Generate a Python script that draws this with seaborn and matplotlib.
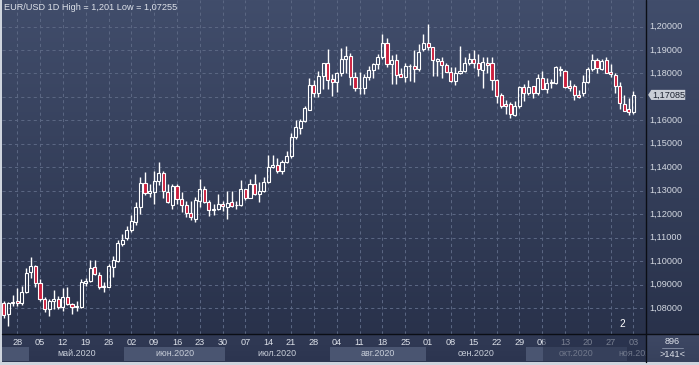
import numpy as np
import pandas as pd
import matplotlib
matplotlib.use("Agg")
import matplotlib.pyplot as plt
import seaborn as sns
from matplotlib.colors import LinearSegmentedColormap
from matplotlib.lines import Line2D
from matplotlib.patches import Polygon
from matplotlib.transforms import blended_transform_factory

# EUR/USD daily bars, 23.04.2020 - 03.11.2020
dates = pd.bdate_range('2020-04-23', '2020-11-03')

opens = [1.0820, 1.0774, 1.0820, 1.0832, 1.0822, 1.0870, 1.0952, 1.0978, 1.0906, 1.0838,
         1.0796, 1.0832, 1.0840, 1.0806, 1.0849, 1.0818, 1.0804, 1.0805, 1.0906, 1.0914,
         1.0974, 1.0941, 1.0890, 1.0891, 1.0977, 1.1000, 1.1071, 1.1100, 1.1134, 1.1167,
         1.1231, 1.1334, 1.1290, 1.1294, 1.1340, 1.1374, 1.1296, 1.1241, 1.1320, 1.1263,
         1.1241, 1.1203, 1.1181, 1.1257, 1.1306, 1.1250, 1.1217, 1.1220, 1.1243, 1.1231,
         1.1250, 1.1238, 1.1240, 1.1306, 1.1271, 1.1327, 1.1286, 1.1300, 1.1339, 1.1400,
         1.1411, 1.1383, 1.1424, 1.1446, 1.1527, 1.1567, 1.1596, 1.1646, 1.1749, 1.1717,
         1.1789, 1.1846, 1.1776, 1.1763, 1.1800, 1.1860, 1.1874, 1.1783, 1.1736, 1.1737,
         1.1783, 1.1815, 1.1839, 1.1871, 1.1928, 1.1839, 1.1856, 1.1797, 1.1786, 1.1831,
         1.1832, 1.1820, 1.1905, 1.1931, 1.1911, 1.1855, 1.1851, 1.1834, 1.1807, 1.1769,
         1.1800, 1.1812, 1.1843, 1.1860, 1.1846, 1.1815, 1.1846, 1.1846, 1.1772, 1.1708,
         1.1669, 1.1669, 1.1623, 1.1661, 1.1741, 1.1718, 1.1746, 1.1715, 1.1779, 1.1732,
         1.1760, 1.1760, 1.1817, 1.1812, 1.1746, 1.1746, 1.1708, 1.1718, 1.1765, 1.1817,
         1.1857, 1.1817, 1.1857, 1.1807, 1.1793, 1.1746, 1.1670, 1.1647, 1.1637]

highs = [1.0830, 1.0826, 1.0856, 1.0886, 1.0892, 1.0972, 1.1017, 1.0985, 1.0925, 1.0847,
         1.0837, 1.0876, 1.0851, 1.0886, 1.0888, 1.0820, 1.0830, 1.0925, 1.0929, 1.1003,
         1.1003, 1.0953, 1.0911, 1.0986, 1.1021, 1.1089, 1.1114, 1.1149, 1.1196, 1.1253,
         1.1360, 1.1380, 1.1330, 1.1383, 1.1422, 1.1385, 1.1330, 1.1329, 1.1327, 1.1294,
         1.1256, 1.1256, 1.1274, 1.1349, 1.1321, 1.1260, 1.1244, 1.1286, 1.1258, 1.1300,
         1.1300, 1.1257, 1.1346, 1.1309, 1.1349, 1.1371, 1.1339, 1.1360, 1.1453, 1.1453,
         1.1441, 1.1429, 1.1470, 1.1546, 1.1603, 1.1607, 1.1660, 1.1781, 1.1771, 1.1809,
         1.1846, 1.1906, 1.1798, 1.1807, 1.1909, 1.1915, 1.1885, 1.1806, 1.1805, 1.1797,
         1.1833, 1.1843, 1.1882, 1.1966, 1.1951, 1.1878, 1.1883, 1.1822, 1.1844, 1.1839,
         1.1901, 1.1925, 1.1966, 1.2011, 1.1913, 1.1866, 1.1872, 1.1846, 1.1829, 1.1827,
         1.1917, 1.1872, 1.1885, 1.1900, 1.1883, 1.1872, 1.1872, 1.1871, 1.1776, 1.1717,
         1.1686, 1.1680, 1.1683, 1.1745, 1.1753, 1.1770, 1.1747, 1.1797, 1.1809, 1.1780,
         1.1778, 1.1831, 1.1830, 1.1813, 1.1772, 1.1757, 1.1729, 1.1794, 1.1827, 1.1881,
         1.1867, 1.1860, 1.1870, 1.1840, 1.1800, 1.1762, 1.1708, 1.1696, 1.1725]

lows = [1.0757, 1.0725, 1.0810, 1.0810, 1.0813, 1.0866, 1.0930, 1.0890, 1.0830, 1.0782,
        1.0767, 1.0795, 1.0796, 1.0786, 1.0813, 1.0775, 1.0786, 1.0799, 1.0896, 1.0909,
        1.0939, 1.0881, 1.0867, 1.0888, 1.0931, 1.0995, 1.1063, 1.1090, 1.1124, 1.1156,
        1.1200, 1.1280, 1.1275, 1.1243, 1.1323, 1.1270, 1.1246, 1.1224, 1.1243, 1.1209,
        1.1189, 1.1174, 1.1167, 1.1231, 1.1247, 1.1191, 1.1196, 1.1217, 1.1215, 1.1181,
        1.1231, 1.1223, 1.1236, 1.1260, 1.1267, 1.1280, 1.1254, 1.1296, 1.1331, 1.1396,
        1.1377, 1.1371, 1.1420, 1.1439, 1.1520, 1.1543, 1.1593, 1.1643, 1.1700, 1.1700,
        1.1732, 1.1735, 1.1703, 1.1721, 1.1791, 1.1802, 1.1752, 1.1725, 1.1711, 1.1712,
        1.1772, 1.1781, 1.1818, 1.1863, 1.1828, 1.1753, 1.1753, 1.1783, 1.1763, 1.1768,
        1.1762, 1.1809, 1.1894, 1.1899, 1.1789, 1.1789, 1.1781, 1.1808, 1.1765, 1.1752,
        1.1798, 1.1805, 1.1835, 1.1822, 1.1789, 1.1737, 1.1801, 1.1729, 1.1674, 1.1652,
        1.1627, 1.1612, 1.1620, 1.1651, 1.1684, 1.1707, 1.1696, 1.1707, 1.1732, 1.1717,
        1.1739, 1.1755, 1.1788, 1.1737, 1.1727, 1.1688, 1.1695, 1.1702, 1.1760, 1.1810,
        1.1803, 1.1813, 1.1803, 1.1786, 1.1716, 1.1650, 1.1639, 1.1621, 1.1625]

closes = [1.0772, 1.0820, 1.0826, 1.0822, 1.0870, 1.0950, 1.0980, 1.0906, 1.0840, 1.0796,
          1.0832, 1.0840, 1.0806, 1.0849, 1.0818, 1.0806, 1.0810, 1.0909, 1.0916, 1.0971,
          1.0946, 1.0889, 1.0894, 1.0980, 1.1003, 1.1076, 1.1091, 1.1134, 1.1170, 1.1231,
          1.1334, 1.1291, 1.1299, 1.1340, 1.1377, 1.1299, 1.1253, 1.1320, 1.1263, 1.1241,
          1.1203, 1.1189, 1.1260, 1.1306, 1.1250, 1.1217, 1.1224, 1.1243, 1.1235, 1.1249,
          1.1236, 1.1241, 1.1306, 1.1271, 1.1327, 1.1286, 1.1300, 1.1339, 1.1400, 1.1410,
          1.1383, 1.1424, 1.1446, 1.1531, 1.1570, 1.1596, 1.1653, 1.1749, 1.1717, 1.1789,
          1.1846, 1.1770, 1.1763, 1.1800, 1.1860, 1.1873, 1.1783, 1.1736, 1.1738, 1.1783,
          1.1815, 1.1839, 1.1871, 1.1928, 1.1839, 1.1856, 1.1793, 1.1786, 1.1832, 1.1833,
          1.1820, 1.1892, 1.1931, 1.1911, 1.1857, 1.1860, 1.1836, 1.1807, 1.1769, 1.1800,
          1.1812, 1.1843, 1.1860, 1.1846, 1.1817, 1.1850, 1.1836, 1.1772, 1.1704, 1.1661,
          1.1661, 1.1626, 1.1661, 1.1744, 1.1718, 1.1741, 1.1715, 1.1779, 1.1732, 1.1761,
          1.1762, 1.1829, 1.1815, 1.1741, 1.1739, 1.1708, 1.1701, 1.1765, 1.1817, 1.1857,
          1.1822, 1.1854, 1.1803, 1.1797, 1.1746, 1.1672, 1.1641, 1.1637, 1.17085]

month_names = ['янв', 'фев', 'мар', 'апр', 'май', 'июн',
               'июл', 'авг', 'сен', 'окт', 'ноя', 'дек']
title = 'EUR/USD 1D High = 1,201 Low = 1,07255'
price_levels = [1.08, 1.09, 1.10, 1.11, 1.12, 1.13, 1.14, 1.15, 1.16, 1.17, 1.18, 1.19, 1.20]

df = pd.DataFrame({'date': dates, 'open': opens, 'high': highs, 'low': lows, 'close': closes})
df['i'] = np.arange(len(df))

sns.set_theme(style='dark')
plt.rcParams['font.family'] = ['Liberation Sans', 'DejaVu Sans']

W, H = 699, 365
BG_TOP, BG_BOT = '#414d6b', '#29324b'
RED = '#cc1f3d'
GRID = '#5a6682'
TXT = '#dde1e9'


def rect(x0, y0, x1, y1):
    return [x0 / W, 1 - y1 / H, (x1 - x0) / W, (y1 - y0) / H]


def paint(a, top, bottom):
    cmap = LinearSegmentedColormap.from_list('bg', [bottom, top])
    a.imshow(np.linspace(1, 0, 256)[:, None], cmap=cmap, aspect='auto',
             extent=[0, 1, 0, 1], transform=a.transAxes, zorder=-10)
    for s in a.spines.values():
        s.set_visible(False)
    a.tick_params(length=0, labelleft=False, labelbottom=False)


fig = plt.figure(figsize=(W / 100, H / 100), dpi=100)
fig.patch.set_facecolor('#cfd5de')

ax = fig.add_axes(rect(2, 0, 646, 334))
axd = fig.add_axes(rect(2, 334, 646, 362))
axp = fig.add_axes(rect(646, 0, 699, 334))
axc = fig.add_axes(rect(646, 334, 699, 362))

paint(ax, BG_TOP, BG_BOT)
paint(axp, BG_TOP, BG_BOT)
paint(axd, '#313a55', '#2c3550')
paint(axc, '#3e4864', '#37415c')

# candles
x = df['i'].values
o, h, l, c = (df[k].values for k in ['open', 'high', 'low', 'close'])
up = c >= o
top = np.maximum(o, c)
bot = np.minimum(o, c)
ax.vlines(x, top, h, color='white', lw=1.0, zorder=2)
ax.vlines(x, l, bot, color='white', lw=1.0, zorder=2)
body = np.maximum(top - bot, 0.00005)
ax.bar(x[up], body[up], bottom=bot[up], width=0.68, facecolor='none',
       edgecolor='white', linewidth=0.8, zorder=3)
ax.bar(x[~up], body[~up], bottom=bot[~up], width=0.68, facecolor=RED,
       edgecolor='white', linewidth=0.8, zorder=3)

# weekly ticks on tuesdays
tues = df[df['date'].dt.dayofweek == 1]
ax.set_xticks(tues['i'])
ax.set_yticks(price_levels)
ax.grid(True, color=GRID, lw=0.75, ls=(0, (3, 3)))

xlim = (-0.33, 140.74)
ylim = (1.06893, 1.21130)
ax.set_xlim(*xlim)
ax.set_ylim(*ylim)
axp.set_ylim(*ylim)
axd.set_xlim(*xlim)
axd.set_ylim(0, 1)

ax.text(0.003, 0.978, title, transform=ax.transAxes, color=TXT,
        fontsize=6.6, va='center', ha='left')
ax.text(0.963, 0.015, '2', transform=ax.transAxes, color='white',
        fontsize=7.2, va='bottom', ha='center')

# date strip
for _, row in tues.iterrows():
    axd.text(row['i'], 0.71, row['date'].strftime('%d'), color=TXT,
             fontsize=6.6, ha='center', va='center')

months = df.groupby(df['date'].dt.to_period('M'))['i'].agg(['min', 'max'])
for k, (per, row) in enumerate(months.iterrows()):
    if k % 2 == 0:
        axd.axvspan(row['min'] - 0.5, row['max'] + 0.5, ymin=0.04, ymax=0.54,
                    color='#4a5571', lw=0, zorder=0)
    if k == 0:
        continue
    label = f"{month_names[per.month - 1]}.{per.year}"
    cx = (row['min'] + row['max']) / 2 if k < len(months) - 1 else (row['min'] + xlim[1]) / 2
    axd.text(cx, 0.29, label, color='#c9cfda', fontsize=6.4,
             ha='center', va='center', clip_on=True)

axd.axvspan(118.2, xlim[1], color='#27304a', alpha=0.55, lw=0, zorder=5)

# price axis (the level under the last-price tag is hidden)
last = closes[-1]
tr = blended_transform_factory(axp.transAxes, axp.transData)
for v in price_levels:
    if abs(v - last) < 0.004:
        continue
    axp.text(0.06, v, f"{v:.5f}".replace('.', ','), transform=tr, color='#d3d8e1',
             fontsize=6.6, ha='left', va='center')

hh = 0.00215
tag = Polygon([(0.04, last), (0.10, last + hh), (0.74, last + hh),
               (0.74, last - hh), (0.10, last - hh)], closed=True,
              transform=tr, facecolor='#c9ced6', edgecolor='none', zorder=6, clip_on=False)
axp.add_patch(tag)
axp.text(0.115, last, f"{last:.5f}".replace('.', ','), transform=tr, color='#1c2230',
         fontsize=6.6, ha='left', va='center', zorder=7)

# corner
axc.text(0.5, 0.72, '896', transform=axc.transAxes, color=TXT, fontsize=6.6,
         ha='center', va='center')
axc.plot([0.3, 0.7], [0.5, 0.5], transform=axc.transAxes, color='#8a93a8', lw=0.6)
axc.text(0.5, 0.28, '>141<', transform=axc.transAxes, color=TXT, fontsize=6.6,
         ha='center', va='center')

# panel separators
fig.add_artist(Line2D([646 / W, 646 / W], [1 - 362 / H, 1], transform=fig.transFigure,
                      color='#0b0e15', lw=1.0))
fig.add_artist(Line2D([2 / W, 1], [1 - 334 / H, 1 - 334 / H], transform=fig.transFigure,
                      color='#0b0e15', lw=1.0))

fig.savefig('out.png', dpi=100, facecolor=fig.get_facecolor())
